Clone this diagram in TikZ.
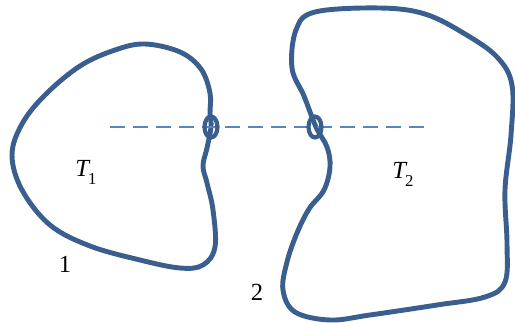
\documentclass[tikz,border=0pt]{standalone}
\usepackage{fontspec}
\setmainfont{Liberation Serif}
\usetikzlibrary{shapes.geometric}
\definecolor{bodyblue}{HTML}{3A5F8E}
\definecolor{axisblue}{HTML}{5A86C0}
\newcommand{\tsub}[2]{{\itshape #1}\kern-0.5pt\raisebox{-4.5pt}{\fontsize{9.5}{10}\selectfont #2}}

\begin{document}
\begin{tikzpicture}[x=0.02cm, y=-0.02cm,
        body/.style={draw=bodyblue, line width=2.8pt, line join=round},
        contact/.style={draw=bodyblue, line width=2.4pt, ellipse, inner sep=0pt,
                        minimum width=0.26cm, minimum height=0.42cm},
        axis/.style={draw=axisblue, line width=1.1pt, dash pattern=on 8.5pt off 4.6pt},
        lbl/.style={font=\fontsize{14}{16}\selectfont, inner sep=0pt}
      ]
        \useasboundingbox (0,0) rectangle (515,322);

        % body 1
        \draw[body] plot[smooth cycle, tension=0.6] coordinates {
            (12,155) (22,124) (45,95) (80,66) (115,50) (145,44)
            (180,52) (201,69) (210,93) (210,113) (211,127) (207,148)
            (203,166) (207,183) (213,210) (215,247) (203,265) (180,268)
            (140,260) (90,246) (50,225) (22,190)};
        % body 2
        \draw[body] plot[smooth cycle, tension=0.6] coordinates {
            (315,12) (380,8) (425,14) (465,34) (497,57) (512,85)
            (511,135) (505,190) (507,243) (505,282) (485,297)
            (437,305) (370,315) (330,320) (295,312) (283,290) (287,262)
            (297,233) (309,209) (324,190) (330,167) (327,147) (316,127)
            (304,96) (292,68) (296,30)};

        \coordinate (ax1) at (110,127);
        \coordinate (ax2) at (425,127);
        \draw[axis] (ax1) -- (ax2);

        \node[contact] (c1) at (211,127) {};
        \node[contact] (c2) at (315,127) {};

        \node[lbl] (t1) at (86,172) {\tsub{T}{1}};
        \node[lbl] (t2) at (403,174) {\tsub{T}{2}};
        \node[lbl] (n1) at (65,264) {1};
        \node[lbl] (n2) at (257,292) {2};
      \end{tikzpicture}
\end{document}
